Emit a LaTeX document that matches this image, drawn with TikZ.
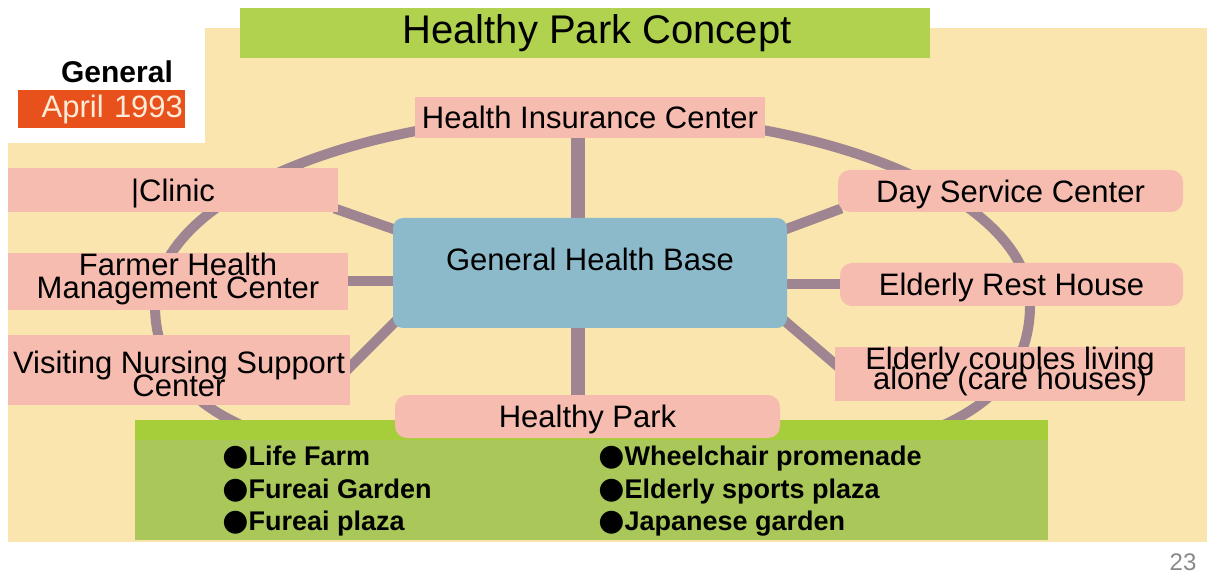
\documentclass[tikz,border=0pt]{standalone}
\usepackage{fontspec}
\setmainfont{Liberation Sans}
\newfontfamily\symfont{DejaVu Sans}
\pgfdeclarelayer{back}
\pgfdeclarelayer{mid}
\pgfsetlayers{back,mid,main}
\definecolor{bgyellow}{HTML}{F9E5AD}
\definecolor{titlegreen}{HTML}{B0D24E}
\definecolor{pinkfill}{HTML}{F6BCAF}
\definecolor{baseblue}{HTML}{8CBACB}
\definecolor{ringcol}{HTML}{9E8591}
\definecolor{parkgreen}{HTML}{AAC85A}
\definecolor{parkstrip}{HTML}{A6CE3A}
\definecolor{aprilred}{HTML}{E8501C}
\definecolor{aprilText}{HTML}{FCEBD6}
\definecolor{pagegrey}{HTML}{8A8A8A}
\newcommand{\blt}{{\symfont\fontsize{15}{14}\selectfont ●}}
\newcommand{\tightlines}{\lineskiplimit -20pt\relax}
\newcommand{\lblfont}{\fontsize{15.5}{11.5}\selectfont\tightlines}
\newcommand{\cplfont}{\fontsize{15.5}{10}\selectfont\tightlines}
\begin{document}
\begin{tikzpicture}[x=0.5pt,y=-0.5pt,
  lbl/.style={font={\lblfont}, align=center, inner sep=0pt},
  oneline/.style={lbl, text height=11.1pt, text depth=0pt},
  pinkbox/.style={fill=pinkfill, draw=none},
  pinkround/.style={pinkbox, rounded corners=6pt},
  spoke/.style={draw=ringcol, line width=5pt},
  spokeV/.style={draw=ringcol, line width=7pt},
  item/.style={anchor=west, inner sep=0pt, text height=10pt, text depth=3pt,
               font={\fontsize{13.5}{14}\selectfont\bfseries}}
]
\useasboundingbox (0,0) rectangle (1218,576);
\begin{pgfonlayer}{back}
  \fill[white] (0,0) rectangle (1218,576);
  \fill[bgyellow] (8,28) rectangle (1207,542);
  \fill[white] (0,0) rectangle (205,143);
\end{pgfonlayer}

% title
\node[fill=titlegreen, minimum width=345pt, minimum height=25pt, inner sep=0pt,
      font={\fontsize{20}{20}\selectfont}] (title) at (585,33) {\hspace*{12pt}Healthy Park Concept};

% date label
\node[font={\fontsize{15}{15}\selectfont\bfseries}, inner sep=0pt] (general) at (117,72) {General};
\node[fill=aprilred, minimum height=19pt, inner xsep=1pt, inner ysep=0pt, text width=81.5pt,
      align=right, text=aprilText, font={\fontsize{15.5}{15}\selectfont}] (april) at (101.5,109) {April 1993};

% centre
\node[fill=baseblue, rounded corners=5pt, minimum width=197pt, minimum height=55pt,
      lbl, text height=11pt, text depth=13pt] (base) at (590,273) {General Health Base};

% satellites
\node[pinkbox, oneline, minimum width=175pt, minimum height=20.5pt] (hic) at (590,117.5) {Health Insurance Center};
\node[pinkbox, oneline, minimum width=165pt, minimum height=22pt] (clinic) at (173,190) {|Clinic};
\node[pinkbox, lbl, minimum width=170pt, minimum height=23.5pt, text height=22.6pt, text depth=6pt] (farmer) at (178,281.5) {Farmer Health\\Management Center};
\node[pinkbox, lbl, minimum width=171pt, minimum height=35pt, text height=30pt, text depth=3.9pt] (visiting) at (179,370) {Visiting Nursing Support\\Center};
\node[pinkround, oneline, minimum width=172.5pt, minimum height=21pt] (day) at (1010.5,191) {Day Service Center};
\node[pinkround, oneline, minimum width=171.5pt, minimum height=21.5pt] (rest) at (1011.5,284.5) {Elderly Rest House};
\node[pinkbox, lbl, minimum width=175pt, minimum height=24pt, text height=21.1pt, text depth=6pt,
      font={\cplfont}] (couples) at (1010,374) {Elderly couples living\\alone (care houses)};

% garden panel
\node[fill=parkgreen, minimum width=456.5pt, minimum height=60pt, inner sep=0pt] (garden) at (591.5,480) {};
\fill[parkstrip] (garden.north west) rectangle ([yshift=-10pt]garden.north east);
\node[pinkround, oneline, minimum width=192.5pt, minimum height=21.5pt] (park) at (587.5,416.5) {Healthy Park};

\node[item] (i1) at (222,458) {\blt Life Farm};
\node[item] (i2) at (222,491) {\blt Fureai Garden};
\node[item] (i3) at (222,523) {\blt Fureai plaza};
\node[item] (i4) at (598,458) {\blt Wheelchair promenade};
\node[item] (i5) at (598,491) {\blt Elderly sports plaza};
\node[item] (i6) at (598,523) {\blt Japanese garden};

\node[text=pagegrey, font={\fontsize{12}{12}\selectfont}, inner sep=0pt] (pg) at (1183,562) {23};

\begin{pgfonlayer}{mid}
  \draw[ringcol, line width=5pt] (155,305) .. controls (155,200) and (351,115) .. (592,115)
     .. controls (833,115) and (1030,200) .. (1030,305)
     .. controls (1030,440) and (854,470) .. (592,470)
     .. controls (330,470) and (155,440) .. (155,305) -- cycle;
  \draw[spokeV] ([xshift=-6pt]hic.south) -- ([xshift=-6pt]base.north);
  \draw[spokeV] ([xshift=-6pt]base.south) -- ([xshift=-4.75pt]park.north);
  \draw[spoke] (farmer.east) -- (base.west |- farmer.east);
  \draw[spoke] (rest.west) -- (base.east |- rest.west);
  \draw[spoke] ([shift={(-2pt,2pt)}]clinic.south east) -- ([shift={(4pt,-7pt)}]base.north west);
  \draw[spoke] ([shift={(-4pt,-7pt)}]base.north east) -- ([shift={(2pt,2pt)}]day.south west);
  \draw[spoke] ([shift={(-2pt,-18pt)}]visiting.north east) -- ([shift={(4pt,6pt)}]base.south west);
  \draw[spoke] ([shift={(-4pt,6pt)}]base.south east) -- ([shift={(4pt,-12pt)}]couples.north west);
\end{pgfonlayer}
\end{tikzpicture}
\end{document}
